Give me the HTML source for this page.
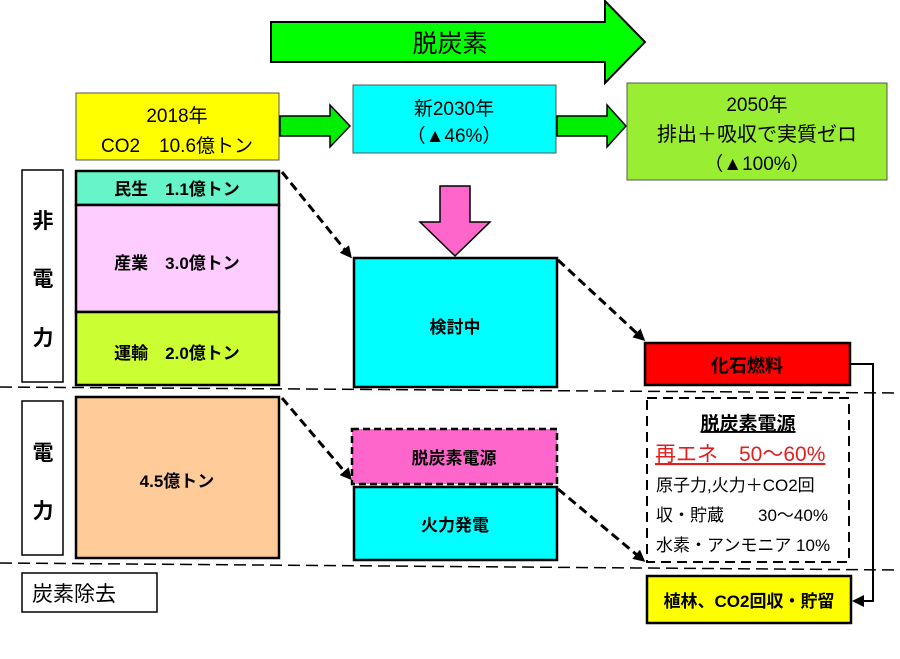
<!DOCTYPE html>
<html><head><meta charset="utf-8"><style>
body{margin:0;background:#fff}
svg text{font-family:"Liberation Sans","Noto Sans CJK JP",sans-serif;fill:#000}
</style></head><body>
<svg width="900" height="654" viewBox="0 0 900 654" xmlns="http://www.w3.org/2000/svg">
<defs>
<marker id="ah" markerWidth="12" markerHeight="12" refX="9" refY="6" orient="auto" markerUnits="userSpaceOnUse"><path d="M0,0 L12,6 L0,12 Z" fill="#000"/></marker>
</defs>
<polygon points="271,22 605,22 605,1 645,42 605,83 605,62 271,62" fill="#00ff00" stroke="#000" stroke-width="2"/>
<text x="450" y="52" font-size="25" text-anchor="middle">脱炭素</text>
<rect x="76" y="93" width="203" height="67" fill="#ffff00" stroke="#555" stroke-width="1"/>
<text x="177" y="122" font-size="19" text-anchor="middle">2018年</text>
<text x="177" y="152" font-size="19" text-anchor="middle">CO2　10.6億トン</text>
<polygon points="280,116 330,116 330,105 350,126 330,147 330,136 280,136" fill="#00ee00" stroke="#000" stroke-width="1.5"/>
<rect x="353" y="85" width="203" height="68" fill="#00ffff" stroke="#555" stroke-width="1"/>
<text x="454" y="115" font-size="19" text-anchor="middle">新2030年</text>
<text x="454" y="142" font-size="19" text-anchor="middle">（▲46%）</text>
<polygon points="557,116 607,116 607,105 626,126 607,147 607,136 557,136" fill="#00ee00" stroke="#000" stroke-width="1.5"/>
<rect x="627" y="83" width="260" height="97" fill="#99ee33" stroke="#555" stroke-width="1"/>
<text x="757" y="111" font-size="19" text-anchor="middle">2050年</text>
<text x="757" y="141" font-size="20" text-anchor="middle">排出＋吸収で実質ゼロ</text>
<text x="757" y="170" font-size="19" text-anchor="middle">（▲100%）</text>
<rect x="22" y="170" width="41" height="212" fill="#fff" stroke="#000" stroke-width="1.5"/>
<text x="43" y="228" font-size="21" text-anchor="middle" font-weight="bold">非</text>
<text x="43" y="286" font-size="21" text-anchor="middle" font-weight="bold">電</text>
<text x="43" y="345" font-size="21" text-anchor="middle" font-weight="bold">力</text>
<rect x="22" y="401" width="41" height="154" fill="#fff" stroke="#000" stroke-width="1.5"/>
<text x="43" y="460" font-size="21" text-anchor="middle" font-weight="bold">電</text>
<text x="43" y="518" font-size="21" text-anchor="middle" font-weight="bold">力</text>
<rect x="22" y="573" width="135" height="39" fill="#fff" stroke="#000" stroke-width="1.5"/>
<text x="32" y="601" font-size="21">炭素除去</text>
<rect x="76" y="171" width="203" height="34" fill="#66f5c8" stroke="#000" stroke-width="2.5"/>
<text x="177" y="195" font-size="17" text-anchor="middle" font-weight="bold">民生　1.1億トン</text>
<rect x="76" y="205" width="203" height="107" fill="#ffccff" stroke="#000" stroke-width="2.5"/>
<text x="177" y="269" font-size="17" text-anchor="middle" font-weight="bold">産業　3.0億トン</text>
<rect x="76" y="312" width="203" height="73" fill="#ccff33" stroke="#000" stroke-width="2.5"/>
<text x="177" y="359" font-size="17" text-anchor="middle" font-weight="bold">運輸　2.0億トン</text>
<rect x="76" y="397" width="203" height="161" fill="#ffcc99" stroke="#000" stroke-width="2.5"/>
<text x="177" y="487" font-size="17" text-anchor="middle" font-weight="bold">4.5億トン</text>
<line x1="0" y1="387" x2="900" y2="393" stroke="#000" stroke-width="1.5" stroke-dasharray="12,6"/>
<line x1="0" y1="563" x2="900" y2="570" stroke="#000" stroke-width="1.5" stroke-dasharray="12,6"/>
<polygon points="440,186 470,186 470,222 490,222 455,256 420,222 440,222" fill="#ff66cc" stroke="#000" stroke-width="1.5"/>
<rect x="354" y="258" width="203" height="129" fill="#00ffff" stroke="#000" stroke-width="2.5"/>
<text x="455" y="333" font-size="17" text-anchor="middle" font-weight="bold">検討中</text>
<rect x="352" y="429" width="205" height="55" fill="#ff66cc" stroke="#000" stroke-width="2.5" stroke-dasharray="7,4"/>
<text x="454" y="464" font-size="17" text-anchor="middle" font-weight="bold">脱炭素電源</text>
<rect x="354" y="487" width="203" height="73" fill="#00ffff" stroke="#000" stroke-width="2.5"/>
<text x="455" y="531" font-size="17" text-anchor="middle" font-weight="bold">火力発電</text>
<g stroke="#000" stroke-width="3" stroke-dasharray="9,5" fill="none" marker-end="url(#ah)">
<line x1="282" y1="172" x2="350" y2="256"/>
<line x1="282" y1="398" x2="350" y2="478"/>
<line x1="558" y1="260" x2="643" y2="339"/>
<line x1="558" y1="489" x2="643" y2="560"/>
</g>
<rect x="645" y="343" width="205" height="42" fill="#ff0000" stroke="#000" stroke-width="2.5"/>
<text x="747" y="372" font-size="18" text-anchor="middle" font-weight="bold">化石燃料</text>
<rect x="647" y="398" width="202" height="164" fill="#fff" stroke="#000" stroke-width="2" stroke-dasharray="10,6"/>
<text x="748" y="430" font-size="19" text-anchor="middle" font-weight="bold" text-decoration="underline">脱炭素電源</text>
<text x="655" y="461" font-size="21" style="fill:#e02020" text-decoration="underline">再エネ　50〜60%</text>
<text x="656" y="491" font-size="17">原子力,火力＋CO2回</text>
<text x="656" y="521" font-size="17">収・貯蔵　　30〜40%</text>
<text x="656" y="551" font-size="17">水素・アンモニア 10%</text>
<rect x="647" y="576" width="204" height="47" fill="#ffff00" stroke="#000" stroke-width="2.5"/>
<text x="749" y="607" font-size="17" text-anchor="middle" font-weight="bold">植林、CO2回収・貯留</text>
<polyline points="850,364 873,364 873,601 855,601" fill="none" stroke="#000" stroke-width="2" marker-end="url(#ah)"/>
</svg>
</body></html>
